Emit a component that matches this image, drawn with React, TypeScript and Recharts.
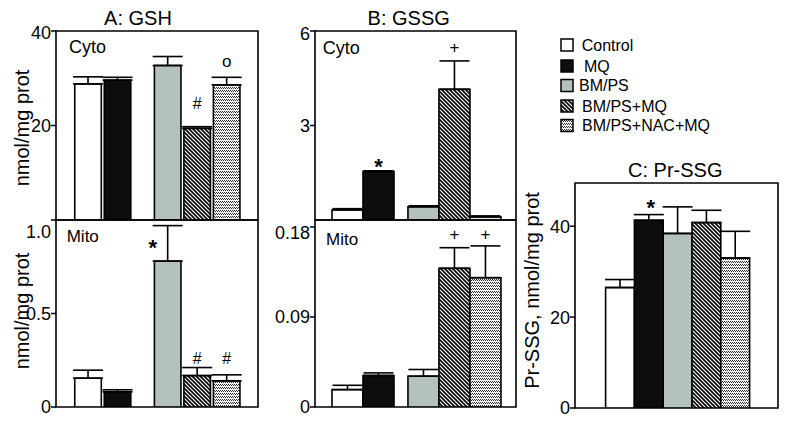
import React from 'react';
import { BarChart, Bar, XAxis, YAxis, ErrorBar, ReferenceArea } from 'recharts';

const groups = ['Control', 'MQ', 'BM/PS', 'BM/PS+MQ', 'BM/PS+NAC+MQ'];

// A: GSH
const gshCyto = [28.8, 29.6, 32.7, 19.4, 28.6];
const gshCytoErr = [1.5, 0.6, 1.9, 0.35, 1.6];
const gshCytoMarks = ['', '', '', '#', 'o'];
const gshCytoTicks = [20, 40];
const gshCytoTickLabels = ['20', '40'];

const gshMito = [0.154, 0.081, 0.78, 0.168, 0.14];
const gshMitoErr = [0.043, 0.011, 0.19, 0.043, 0.032];
const gshMitoMarks = ['', '', '*', '#', '#'];
const gshMitoTicks = [0, 0.5, 1.0];
const gshMitoTickLabels = ['0', '0.5', '1.0'];

// B: GSSG
const gssgCyto = [0.32, 1.54, 0.42, 4.15, 0.1];
const gssgCytoErr = [0.04, 0.02, 0.03, 0.9, 0.03];
const gssgCytoMarks = ['', '*', '', '+', ''];
const gssgCytoTicks = [3, 6];
const gssgCytoTickLabels = ['3', '6'];

const gssgMito = [0.0174, 0.0315, 0.0308, 0.1387, 0.1293];
const gssgMitoErr = [0.0043, 0.0026, 0.0067, 0.0206, 0.0318];
const gssgMitoMarks = ['', '', '', '+', '+'];
const gssgMitoTicks = [0, 0.09, 0.18];
const gssgMitoTickLabels = ['0', '0.09', '0.18'];

// C: Pr-SSG
const prssg = [26.5, 41.3, 38.4, 40.8, 33.0];
const prssgErr = [1.76, 1.25, 5.85, 2.7, 5.87];
const prssgMarks = ['', '*', '', '', ''];
const prssgTicks = [0, 20, 40];
const prssgTickLabels = ['0', '20', '40'];

const W = 790;
const H = 423;
const FONT = '"Liberation Sans", Arial, Helvetica, sans-serif';
const FILLS = ['#ffffff', '#0b0e0d', '#b4c1bf', 'url(#hatch)', 'url(#zigzag)'];

const MARK_STYLE: Record<string, { size: number; weight: string; lift: number }> = {
  '*': { size: 22, weight: 'bold', lift: 0.58 },
  '#': { size: 16, weight: 'normal', lift: 0.35 },
  '+': { size: 17, weight: 'normal', lift: 0.355 },
  o: { size: 17, weight: 'normal', lift: 0.26 },
};

function Panel(props: any) {
  const {
    values, errors, marks, slots, xDomain, yDomain, ticks, tickLabels,
    plot, barWidth, nudges = {}, topTickDy = 0,
  } = props;
  const [l, t, r, b] = plot;
  const data = values.map((v: number, i: number) => ({
    name: groups[i], i, x: slots[i], v, e: errors[i], err: [0, errors[i]], mark: marks[i],
  }));

  const shape = (p: any) => {
    const { x, y, width, height, payload } = p;
    const i = payload.i;
    const capY = y - (height * payload.e) / payload.v;
    const n = nudges[i] || {};
    const gap = n.gap ?? 12;
    const st = MARK_STYLE[payload.mark];
    return (
      <g>
        <rect x={x} y={y} width={width} height={height} fill={FILLS[i]} stroke="#000" strokeWidth={1.6} />
        {payload.mark && st && (
          <text
            x={x + width / 2 + (n.dx ?? 0)}
            y={capY - gap + st.lift * st.size}
            textAnchor="middle"
            fontSize={st.size}
            fontWeight={st.weight}
            fontFamily={FONT}
            fill="#000"
          >
            {payload.mark}
          </text>
        )}
      </g>
    );
  };

  const tick = (p: any) => {
    const idx = ticks.indexOf(p.payload.value);
    const dy = idx === ticks.length - 1 ? topTickDy : 0;
    return (
      <text x={p.x} y={p.y + dy} dy="0.36em" textAnchor="end" fontSize={18} fontFamily={FONT} fill="#000">
        {tickLabels[idx]}
      </text>
    );
  };

  return (
    <div style={{ position: 'absolute', left: 0, top: 0 }}>
      <BarChart
        width={W}
        height={H}
        data={data}
        margin={{ top: t, left: l - 50, right: W - r, bottom: H - b }}
      >
        <XAxis type="number" dataKey="x" domain={xDomain} ticks={xDomain} allowDataOverflow hide />
        <YAxis
          type="number"
          width={50}
          domain={yDomain}
          ticks={ticks}
          allowDataOverflow
          axisLine={false}
          tickLine={{ stroke: '#000', strokeWidth: 1.5 }}
          tickSize={5}
          tickMargin={0}
          tick={tick}
        />
        <Bar dataKey="v" barSize={barWidth} isAnimationActive={false} shape={shape}>
          <ErrorBar dataKey="err" direction="y" width={15} stroke="#000" strokeWidth={1.6} />
        </Bar>
        <ReferenceArea
          x1={xDomain[0]}
          x2={xDomain[1]}
          y1={yDomain[0]}
          y2={yDomain[1]}
          fill="none"
          stroke="#000"
          strokeWidth={1.6}
          ifOverflow="visible"
        />
      </BarChart>
    </div>
  );
}

const slotsA = [0, 1, 2.7, 3.7, 4.7];
const domainA = [-1.102, 5.746];
const slotsB = [0, 1, 2.45, 3.45, 4.45];
const domainB = [-1.048, 5.435];
const slotsC = [0, 1, 2, 3, 4];
const domainC = [-1.5625, 5.486];

const legendTops = [39, 60, 79.5, 100, 119.5];
const legendTextX = [581.7, 584, 579, 582, 582];

export default function App() {
  const txt = { fontFamily: FONT, fill: '#000' } as any;
  return (
    <div style={{ position: 'absolute', left: 0, top: 0, width: W, height: H, background: '#fff' }}>
      <Panel
        values={gshCyto} errors={gshCytoErr} marks={gshCytoMarks}
        slots={slotsA} xDomain={domainA} yDomain={[0, 40]}
        ticks={gshCytoTicks} tickLabels={gshCytoTickLabels}
        plot={[56, 31, 258, 220]} barWidth={29.5} topTickDy={2}
        nudges={{ 3: { gap: 23.7 }, 4: { gap: 15 } }}
      />
      <Panel
        values={gshMito} errors={gshMitoErr} marks={gshMitoMarks}
        slots={slotsA} xDomain={domainA} yDomain={[0, 1]}
        ticks={gshMitoTicks} tickLabels={gshMitoTickLabels}
        plot={[56, 220, 258, 407]} barWidth={29.5} topTickDy={11.7}
        nudges={{ 2: { dx: -15, gap: -17 }, 3: { gap: 9 }, 4: { gap: 16 } }}
      />
      <Panel
        values={gssgCyto} errors={gssgCytoErr} marks={gssgCytoMarks}
        slots={slotsB} xDomain={domainB} yDomain={[0, 6]}
        ticks={gssgCytoTicks} tickLabels={gssgCytoTickLabels}
        plot={[315, 31, 516, 220]} barWidth={31} topTickDy={3}
        nudges={{ 1: { gap: 10 }, 3: { gap: 14 } }}
      />
      <Panel
        values={gssgMito} errors={gssgMitoErr} marks={gssgMitoMarks}
        slots={slotsB} xDomain={domainB} yDomain={[0, 0.187]}
        ticks={gssgMitoTicks} tickLabels={gssgMitoTickLabels}
        plot={[315, 220, 516, 407]} barWidth={31} topTickDy={6}
        nudges={{ 3: { gap: 13.7 }, 4: { gap: 12 } }}
      />
      <Panel
        values={prssg} errors={prssgErr} marks={prssgMarks}
        slots={slotsC} xDomain={domainC} yDomain={[0, 49.5]}
        ticks={prssgTicks} tickLabels={prssgTickLabels}
        plot={[575, 183, 778, 408]} barWidth={28.8}
        nudges={{ 1: { gap: 12, dx: 2 } }}
      />
      <svg width={W} height={H} style={{ position: 'absolute', left: 0, top: 0, pointerEvents: 'none' }}>
        <defs>
          <pattern id="hatch" width="4" height="4" patternUnits="userSpaceOnUse">
            <rect width="4" height="4" fill="#fff" />
            <path d="M-1,-1 L5,5 M-1,3 L1,5 M3,-1 L5,1" stroke="#000" strokeWidth="1.6" />
          </pattern>
          <pattern id="zigzag" width="4" height="3" patternUnits="userSpaceOnUse">
            <rect width="4" height="3" fill="#f2f2f2" />
            <rect x="0" y="0" width="1" height="1" fill="#333" />
            <rect x="2" y="0" width="1" height="1" fill="#333" />
            <rect x="1" y="1" width="1" height="1" fill="#333" />
            <rect x="3" y="1" width="1" height="1" fill="#333" />
          </pattern>
        </defs>

        <text x={138} y={25} textAnchor="middle" fontSize={20} {...txt}>A: GSH</text>
        <text x={408.7} y={25} textAnchor="middle" fontSize={20} {...txt}>B: GSSG</text>
        <text x={675.3} y={176.5} textAnchor="middle" fontSize={20} {...txt}>C: Pr-SSG</text>

        <text x={69} y={53} fontSize={18} {...txt}>Cyto</text>
        <text x={66.7} y={241.7} fontSize={17} {...txt}>Mito</text>
        <text x={322.7} y={53.5} fontSize={18} {...txt}>Cyto</text>
        <text x={326} y={245} fontSize={17} {...txt}>Mito</text>

        <text x={29} y={128} textAnchor="middle" fontSize={20} transform="rotate(-90 29 128)" {...txt}>nmol/mg prot</text>
        <text x={29} y={311} textAnchor="middle" fontSize={20} transform="rotate(-90 29 311)" {...txt}>nmol/mg prot</text>
        <text x={539} y={290.5} textAnchor="middle" fontSize={20} transform="rotate(-90 539 290.5)" {...txt}>Pr-SSG, nmol/mg prot</text>

        {groups.map((g, i) => (
          <g key={g}>
            <rect x={561} y={legendTops[i]} width={12} height={12} fill={FILLS[i]} stroke="#000" strokeWidth={1.5} />
            <text x={legendTextX[i]} y={legendTops[i] + 6 + 5.7} fontSize={16} {...txt}>{g}</text>
          </g>
        ))}
      </svg>
    </div>
  );
}
